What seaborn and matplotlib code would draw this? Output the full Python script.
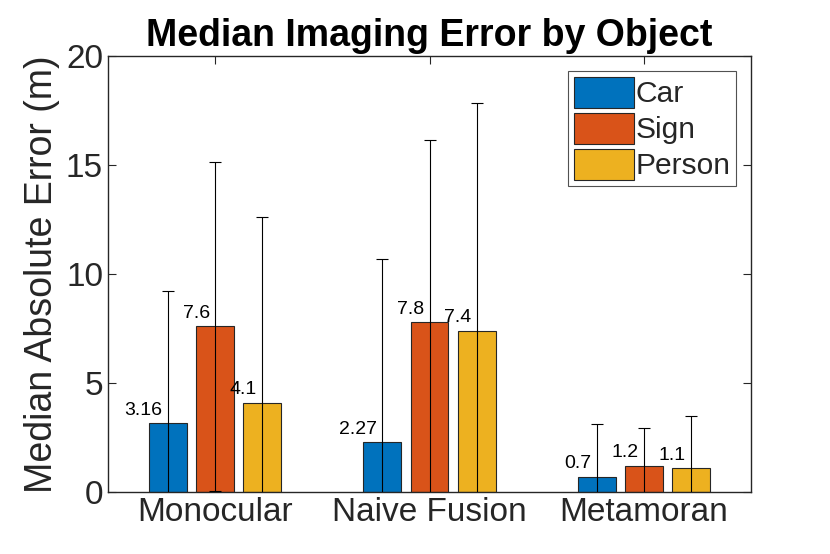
import pandas as pd
import matplotlib
matplotlib.use('Agg')
import matplotlib.pyplot as plt
import seaborn as sns

# data
methods = ['Monocular', 'Naive Fusion', 'Metamoran']
objects = ['Car', 'Sign', 'Person']
car = [3.16, 2.27, 0.7]
sign = [7.6, 7.8, 1.2]
person = [4.1, 7.4, 1.1]
car_err = [6.05, 8.4, 2.4]
sign_err = [7.55, 8.35, 1.75]
person_err = [8.5, 10.45, 2.4]

colors = ['#0072BD', '#D95319', '#EDB120']

df = pd.DataFrame({
    'method': methods * 3,
    'object': [o for o in objects for _ in methods],
    'error': car + sign + person,
})
errs = [car_err, sign_err, person_err]

sns.set_style('white')
plt.rcParams['font.family'] = ['Liberation Sans', 'DejaVu Sans']

fig = plt.figure(figsize=(8.3, 5.54), dpi=100)
ax = fig.add_axes([0.130, 0.112, 0.775, 0.787])

sns.barplot(data=df, x='method', y='error', hue='object', order=methods,
            hue_order=objects, palette=colors, saturation=1, width=0.66,
            gap=0.2, edgecolor='#262626', linewidth=0.8, errorbar=None, ax=ax)

# error bars and value labels
for cont, e in zip(ax.containers, errs):
    xs = [p.get_x() + p.get_width() / 2 for p in cont.patches]
    hs = [p.get_height() for p in cont.patches]
    ax.errorbar(xs, hs, yerr=e, fmt='none', ecolor='black', elinewidth=0.8,
                capsize=4.3, capthick=0.8, zorder=5)
    for x, h in zip(xs, hs):
        ax.text(x - 0.025, h + 0.2, f'{h:g}', ha='right', va='bottom',
                fontsize=14, color='black')

ax.set_xlim(-0.5, 2.5)
ax.set_ylim(0, 20)
ax.set_yticks([0, 5, 10, 15, 20])
ax.set_xlabel('')
ax.set_ylabel('Median Absolute Error (m)', fontsize=27, color='#262626')
ax.set_title('Median Imaging Error by Object', fontsize=27, fontweight='bold',
             color='black', pad=7)
ax.tick_params(axis='both', labelsize=24, labelcolor='#262626', direction='in',
               length=6, width=0.8, color='#262626',
               top=True, right=True, bottom=True, left=True)
for s in ax.spines.values():
    s.set_visible(True)
    s.set_color('#262626')
    s.set_linewidth(1.0)

leg = ax.legend(loc='upper right', fontsize=21.6, frameon=True, fancybox=False,
                handlelength=2.0, handleheight=1.2, handletextpad=0.05,
                labelspacing=0.15, borderpad=0.2, borderaxespad=0.5)
leg.get_frame().set_edgecolor('#262626')
leg.get_frame().set_linewidth(0.8)

fig.savefig('out.png', dpi=100)
